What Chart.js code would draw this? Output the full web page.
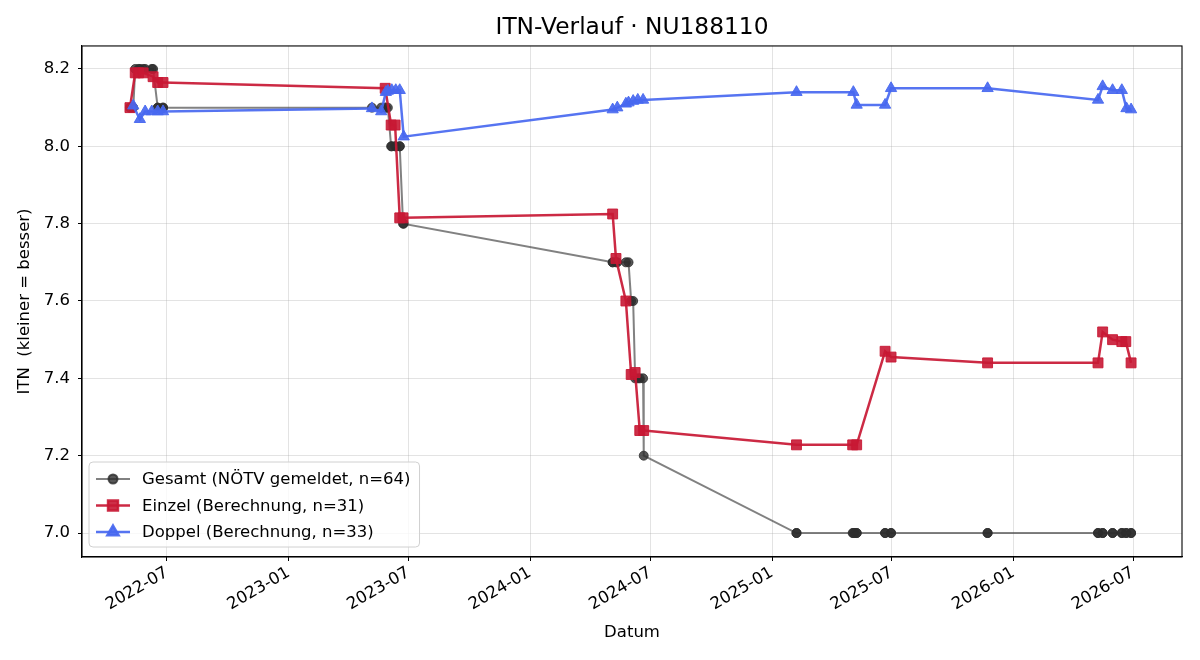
<!DOCTYPE html>
<html><head><meta charset="utf-8">
<script src="https://cdn.jsdelivr.net/npm/chart.js@4.4.1/dist/chart.umd.min.js"></script>
<style>html,body{margin:0;padding:0;background:#fff}canvas{display:block}</style>
</head><body>
<canvas id="c" width="1200" height="660"></canvas>
<script>
const gesamtDates = [
 '2022-05-06','2022-05-11','2022-05-14','2022-05-19','2022-05-21','2022-05-26','2022-05-29','2022-06-08','2022-06-10','2022-06-17','2022-06-17','2022-06-25','2022-06-25',
 '2023-05-07','2023-05-21','2023-05-27','2023-05-28','2023-05-31','2023-06-05','2023-06-06','2023-06-11','2023-06-12','2023-06-18','2023-06-18','2023-06-23','2023-06-24',
 '2024-05-05','2024-05-05','2024-05-10','2024-05-12','2024-05-25','2024-05-29','2024-06-02','2024-06-05','2024-06-08','2024-06-12','2024-06-15','2024-06-20','2024-06-21',
 '2025-02-07','2025-02-07','2025-05-03','2025-05-04','2025-05-06','2025-05-09','2025-05-09','2025-06-21','2025-06-21','2025-06-30','2025-06-30','2025-11-23','2025-11-23',
 '2026-05-09','2026-05-09','2026-05-16','2026-05-16','2026-05-31','2026-05-31','2026-06-14','2026-06-14','2026-06-20','2026-06-21','2026-06-28','2026-06-28'
];
const gesamtValues = [
 8.1,8.1,8.2,8.2,8.2,8.2,8.2,8.2,8.2,8.1,8.1,8.1,8.1,
 8.1,8.1,8.1,8.1,8.1,8.0,8.0,8.0,8.0,8.0,8.0,7.8,7.8,
 7.7,7.7,7.7,7.7,7.7,7.7,7.6,7.6,7.4,7.4,7.4,7.4,7.2,
 7.0,7.0,7.0,7.0,7.0,7.0,7.0,7.0,7.0,7.0,7.0,7.0,7.0,
 7.0,7.0,7.0,7.0,7.0,7.0,7.0,7.0,7.0,7.0,7.0,7.0
];
const einzelDates = [
 '2022-05-06','2022-05-14','2022-05-19','2022-05-26','2022-06-10','2022-06-17','2022-06-25',
 '2023-05-27','2023-06-05','2023-06-11','2023-06-18','2023-06-23',
 '2024-05-05','2024-05-10','2024-05-25','2024-06-02','2024-06-08','2024-06-15','2024-06-21',
 '2025-02-07','2025-05-03','2025-05-09','2025-06-21','2025-06-30','2025-11-23',
 '2026-05-09','2026-05-16','2026-05-31','2026-06-14','2026-06-20','2026-06-28'
];
const einzelValues = [
 8.10,8.19,8.19,8.19,8.18,8.165,8.165,
 8.15,8.055,8.055,7.815,7.815,
 7.825,7.71,7.60,7.41,7.415,7.265,7.265,
 7.228,7.228,7.228,7.47,7.455,7.44,
 7.44,7.52,7.50,7.495,7.495,7.44
];
const doppelDates = [
 '2022-05-11','2022-05-21','2022-05-29','2022-06-08','2022-06-17','2022-06-25',
 '2023-05-07','2023-05-21','2023-05-28','2023-05-31','2023-06-06','2023-06-12','2023-06-18','2023-06-24',
 '2024-05-05','2024-05-12','2024-05-25','2024-05-29','2024-06-05','2024-06-12','2024-06-20',
 '2025-02-07','2025-05-04','2025-05-09','2025-06-21','2025-06-30','2025-11-23',
 '2026-05-09','2026-05-16','2026-05-31','2026-06-14','2026-06-21','2026-06-28'
];
const doppelValues = [
 8.105,8.07,8.09,8.09,8.09,8.09,
 8.098,8.09,8.14,8.143,8.145,8.145,8.145,8.025,
 8.095,8.10,8.11,8.113,8.117,8.12,8.12,
 8.14,8.14,8.107,8.107,8.15,8.15,
 8.12,8.155,8.145,8.145,8.098,8.095
];
const seriesLabels = ['Gesamt (NÖTV gemeldet, n=64)','Einzel (Berechnung, n=31)','Doppel (Berechnung, n=33)'];
const xTickDates = ['2022-07-01','2023-01-01','2023-07-01','2024-01-01','2024-07-01','2025-01-01','2025-07-01','2026-01-01','2026-07-01'];
const yTickValues = [7.0,7.2,7.4,7.6,7.8,8.0,8.2];
const xRange = ['2022-02-22','2026-09-13'];
const yRange = [6.938, 8.2595];
const titleText = 'ITN-Verlauf · NU188110';
const xTitle = 'Datum';
const yTitle = 'ITN  (kleiner = besser)';

const toMs = s => { const [y,m,d] = s.split('-').map(Number); return Date.UTC(y, m-1, d); };
const pts = (ds, vs) => ds.map((d,i) => ({x: toMs(d), y: vs[i]}));
const fmtMonth = ms => { const d = new Date(ms); return d.getUTCFullYear() + '-' + String(d.getUTCMonth()+1).padStart(2,'0'); };

const FONT = 'DejaVu Sans';
const FS = 16.5;
Chart.defaults.font.family = FONT;
Chart.defaults.font.size = FS;
Chart.defaults.color = '#000';

const boxPlugin = {
  id: 'frameBox',
  afterDraw(chart) {
    const {ctx, chartArea: a} = chart;
    ctx.save();
    ctx.strokeStyle = '#000';
    ctx.lineWidth = 1.1;
    ctx.strokeRect(a.left, a.top, a.right - a.left, a.bottom - a.top);
    ctx.restore();
  }
};

const legendPlugin = {
  id: 'innerLegend',
  afterDraw(chart) {
    const {ctx, chartArea: a} = chart;
    const dss = chart.data.datasets;
    ctx.save();
    ctx.font = FS + 'px "' + FONT + '"';
    let maxW = 0;
    dss.forEach(d => { maxW = Math.max(maxW, ctx.measureText(d.label).width); });
    const left = a.left + 7, bottom = a.bottom - 10;
    const rowH = 26.5;
    const top = bottom - 15 - rowH * (dss.length - 1) - 17;
    const right = left + 53 + maxW + 9;
    const r = 4;
    ctx.beginPath();
    ctx.moveTo(left + r, top);
    ctx.arcTo(right, top, right, bottom, r);
    ctx.arcTo(right, bottom, left, bottom, r);
    ctx.arcTo(left, bottom, left, top, r);
    ctx.arcTo(left, top, right, top, r);
    ctx.closePath();
    ctx.fillStyle = 'rgba(255,255,255,0.8)';
    ctx.fill();
    ctx.strokeStyle = '#d0d0d0';
    ctx.lineWidth = 1;
    ctx.stroke();
    dss.forEach((d, i) => {
      const cy = top + 17 + i * rowH;
      ctx.beginPath();
      ctx.moveTo(left + 7, cy);
      ctx.lineTo(left + 41, cy);
      ctx.strokeStyle = d.borderColor;
      ctx.lineWidth = d.borderWidth;
      ctx.stroke();
      ctx.fillStyle = d.pointBackgroundColor;
      ctx.strokeStyle = d.pointBorderColor;
      Chart.helpers.drawPoint(ctx, {pointStyle: d.pointStyle, radius: d.pointRadius, rotation: 0, borderWidth: 1}, left + 24, cy);
      ctx.fillStyle = '#000';
      ctx.textBaseline = 'middle';
      ctx.textAlign = 'left';
      ctx.fillText(d.label, left + 53, cy + 1);
    });
    ctx.restore();
  }
};

const gridColor = 'rgba(176,176,176,0.35)';

new Chart(document.getElementById('c'), {
  type: 'line',
  data: {
    datasets: [
      {
        label: seriesLabels[0], data: pts(gesamtDates, gesamtValues), order: 3,
        borderColor: 'rgba(70,70,70,0.68)', borderWidth: 2,
        pointStyle: 'circle', pointRadius: 4.5,
        pointBackgroundColor: 'rgba(45,45,45,0.8)', pointBorderColor: 'rgba(45,45,45,0.8)', pointBorderWidth: 1,
        tension: 0
      },
      {
        label: seriesLabels[1], data: pts(einzelDates, einzelValues), order: 2,
        borderColor: 'rgba(200,24,52,0.92)', borderWidth: 2.5,
        pointStyle: 'rect', pointRadius: 7,
        pointBackgroundColor: 'rgba(200,24,52,0.9)', pointBorderColor: 'rgba(200,24,52,0.9)', pointBorderWidth: 1,
        tension: 0
      },
      {
        label: seriesLabels[2], data: pts(doppelDates, doppelValues), order: 1,
        borderColor: 'rgba(72,104,240,0.92)', borderWidth: 2.5,
        pointStyle: 'triangle', pointRadius: 6.5,
        pointBackgroundColor: 'rgba(72,104,240,0.92)', pointBorderColor: 'rgba(72,104,240,0.92)', pointBorderWidth: 1,
        tension: 0
      }
    ]
  },
  options: {
    responsive: false,
    animation: false,
    devicePixelRatio: 1,
    layout: { padding: { left: 0, right: 18, top: 0, bottom: 0 } },
    plugins: {
      legend: { display: false },
      tooltip: { enabled: false },
      title: {
        display: true, text: titleText, color: '#000', fullSize: false,
        font: { family: FONT, size: 23.3, weight: 'normal', lineHeight: 1.2 },
        padding: { top: 14, bottom: 4 }
      }
    },
    scales: {
      x: {
        type: 'linear',
        min: toMs(xRange[0]) + 43200000, max: toMs(xRange[1]),
        afterBuildTicks: s => { s.ticks = xTickDates.map(d => ({value: toMs(d)})); },
        afterFit: s => { s.height = 103; },
        ticks: {
          autoSkip: false, minRotation: 30, maxRotation: 30, padding: 2,
          color: '#000', font: { size: FS },
          callback: v => fmtMonth(v)
        },
        grid: { color: gridColor, lineWidth: 1, tickColor: '#000', tickLength: 4, drawTicks: true },
        border: { display: true, color: '#000', width: 1.1 },
        title: { display: true, text: xTitle, color: '#000', font: { size: FS, lineHeight: 1.2 }, padding: { top: 0, bottom: 17 } }
      },
      y: {
        type: 'linear',
        min: yRange[0], max: yRange[1],
        afterBuildTicks: s => { s.ticks = yTickValues.map(v => ({value: v})); },
        afterFit: s => { s.width = 82; },
        ticks: { padding: 8, color: '#000', font: { size: FS }, callback: v => Number(v).toFixed(1) },
        grid: { color: gridColor, lineWidth: 1, tickColor: '#000', tickLength: 4, drawTicks: true },
        border: { display: true, color: '#000', width: 1.1 },
        title: { display: true, text: yTitle, color: '#000', font: { size: FS, lineHeight: 1.2 }, padding: { top: 15, bottom: 0 } }
      }
    }
  },
  plugins: [boxPlugin, legendPlugin]
});
</script>
</body></html>
